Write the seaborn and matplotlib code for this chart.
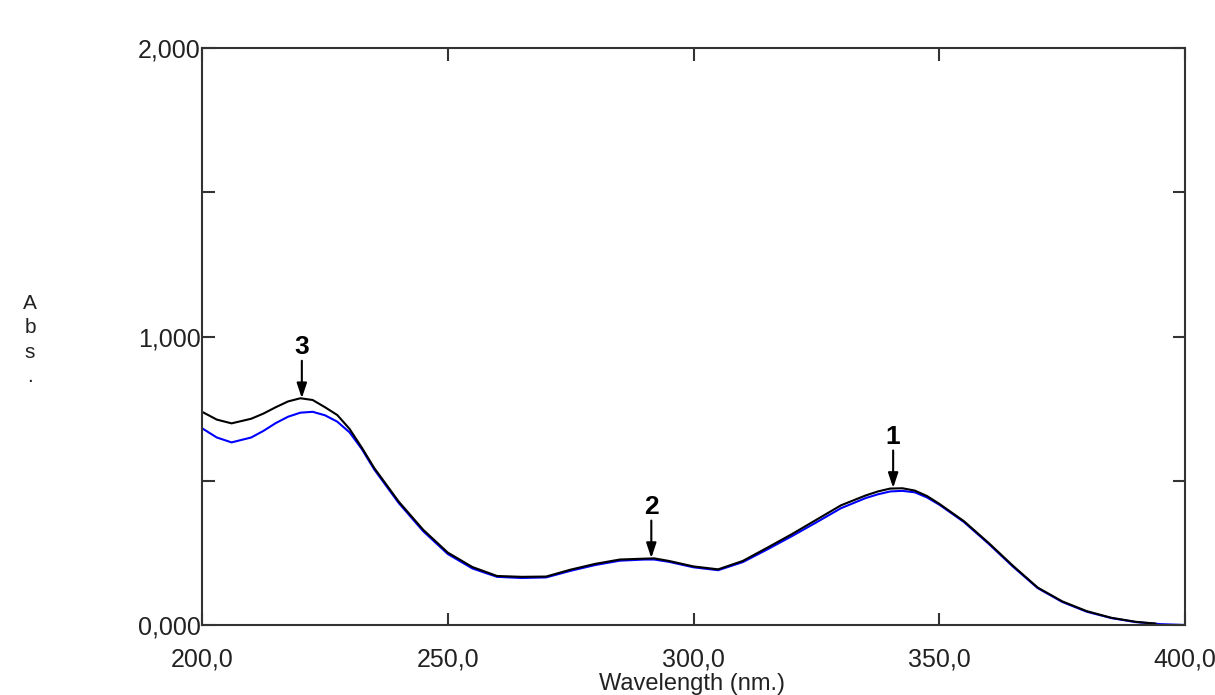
## UV-Vis absorbance spectrum, two scans overlaid
import matplotlib
matplotlib.use("Agg")
import matplotlib.pyplot as plt
import pandas as pd
import seaborn as sns

# black scan
wl_black = [200, 203, 206, 210, 212.5, 215, 217.5, 220, 222.5, 225, 227.5,
            230, 232.5, 235, 240, 245, 250, 255, 260, 265, 270, 275, 280,
            285, 290, 292, 295, 300, 305, 310, 315, 320, 325, 330, 335,
            337.5, 340, 342.5, 345, 347.5, 350, 355, 360, 365, 370, 375,
            380, 385, 390, 394]
abs_black = [0.739, 0.712, 0.699, 0.715, 0.733, 0.755, 0.775, 0.786, 0.780,
             0.755, 0.728, 0.680, 0.615, 0.545, 0.428, 0.330, 0.251, 0.201,
             0.170, 0.167, 0.168, 0.192, 0.212, 0.227, 0.230, 0.231, 0.222,
             0.203, 0.193, 0.222, 0.268, 0.315, 0.365, 0.415, 0.449, 0.463,
             0.473, 0.474, 0.466, 0.447, 0.420, 0.360, 0.285, 0.205, 0.130,
             0.082, 0.048, 0.025, 0.011, 0.005]

# blue scan
wl_blue = [200, 203, 206, 210, 212.5, 215, 217.5, 220, 222.5, 225, 227.5,
           230, 232.5, 235, 240, 245, 250, 255, 260, 265, 270, 275, 280,
           285, 290, 292, 295, 300, 305, 310, 315, 320, 325, 330, 335,
           337.5, 340, 342.5, 345, 347.5, 350, 355, 360, 365, 370, 375,
           380, 385, 390, 395, 400]
abs_blue = [0.682, 0.650, 0.633, 0.650, 0.673, 0.700, 0.722, 0.736, 0.739,
            0.727, 0.705, 0.668, 0.610, 0.540, 0.423, 0.325, 0.246, 0.196,
            0.167, 0.163, 0.165, 0.188, 0.208, 0.223, 0.227, 0.227, 0.219,
            0.200, 0.190, 0.218, 0.262, 0.308, 0.356, 0.405, 0.440, 0.453,
            0.463, 0.465, 0.460, 0.442, 0.417, 0.357, 0.282, 0.202, 0.128,
            0.080, 0.046, 0.024, 0.010, 0.003, 0.000]

# peak markers: label, wavelength, absorbance at peak
peak_labels = ['3', '2', '1']
peak_wl = [220.3, 291.4, 340.6]
peak_abs = [0.786, 0.232, 0.475]

xticks = [200, 250, 300, 350, 400]
xtick_labels = ['200,0', '250,0', '300,0', '350,0', '400,0']
yticks = [0.0, 0.5, 1.0, 1.5, 2.0]
ytick_labels = ['0,000', '', '1,000', '', '2,000']

df = pd.concat([
    pd.DataFrame({'wl': wl_blue, 'abs': abs_blue, 'scan': 'blue'}),
    pd.DataFrame({'wl': wl_black, 'abs': abs_black, 'scan': 'black'}),
])

sns.set_style("white")
plt.rcParams['font.family'] = ['Liberation Sans', 'DejaVu Sans']

fig = plt.figure(figsize=(12.15, 6.95), dpi=100)
ax = fig.add_axes([0.1663, 0.1007, 0.8091, 0.8302])

sns.lineplot(data=df, x='wl', y='abs', hue='scan',
             palette={'blue': '#0000ff', 'black': '#000000'},
             hue_order=['blue', 'black'], linewidth=1.5, legend=False,
             estimator=None, sort=False, ax=ax)

ax.set_xlim(200, 400)
ax.set_ylim(0, 2)
ax.set_xticks(xticks)
ax.set_xticklabels(xtick_labels)
ax.set_yticks(yticks)
ax.set_yticklabels(ytick_labels)
ax.set_xlabel('')
ax.set_ylabel('')

for s in ax.spines.values():
    s.set_visible(True)
    s.set_linewidth(1.5)
    s.set_color('#333333')

ax.tick_params(axis='both', direction='in', length=9, width=1.5,
               color='#333333', labelsize=18, labelcolor='#222222',
               top=True, right=True, bottom=True, left=True)
ax.tick_params(axis='x', pad=16)
ax.tick_params(axis='y', pad=1)

# arrows down to each peak
for lab, x, y in zip(peak_labels, peak_wl, peak_abs):
    ax.annotate('', xy=(x, y), xytext=(x, y + 0.13),
                arrowprops=dict(arrowstyle='-|>,head_length=0.9,head_width=0.3',
                                color='black', lw=1.5, shrinkA=0, shrinkB=0))
    ax.text(x, y + 0.135, lab, ha='center', va='bottom', fontsize=19,
            fontweight='bold', color='black')

fig.text(692 / 1215, 0.0, 'Wavelength (nm.)', ha='center', va='bottom',
         fontsize=17, color='#222222')
fig.text(30 / 1215, 1 - 340 / 695, 'A\nb\ns\n.', ha='center', va='center',
         fontsize=15, linespacing=1.35, color='#222222')

fig.savefig('out.png', dpi=100)
